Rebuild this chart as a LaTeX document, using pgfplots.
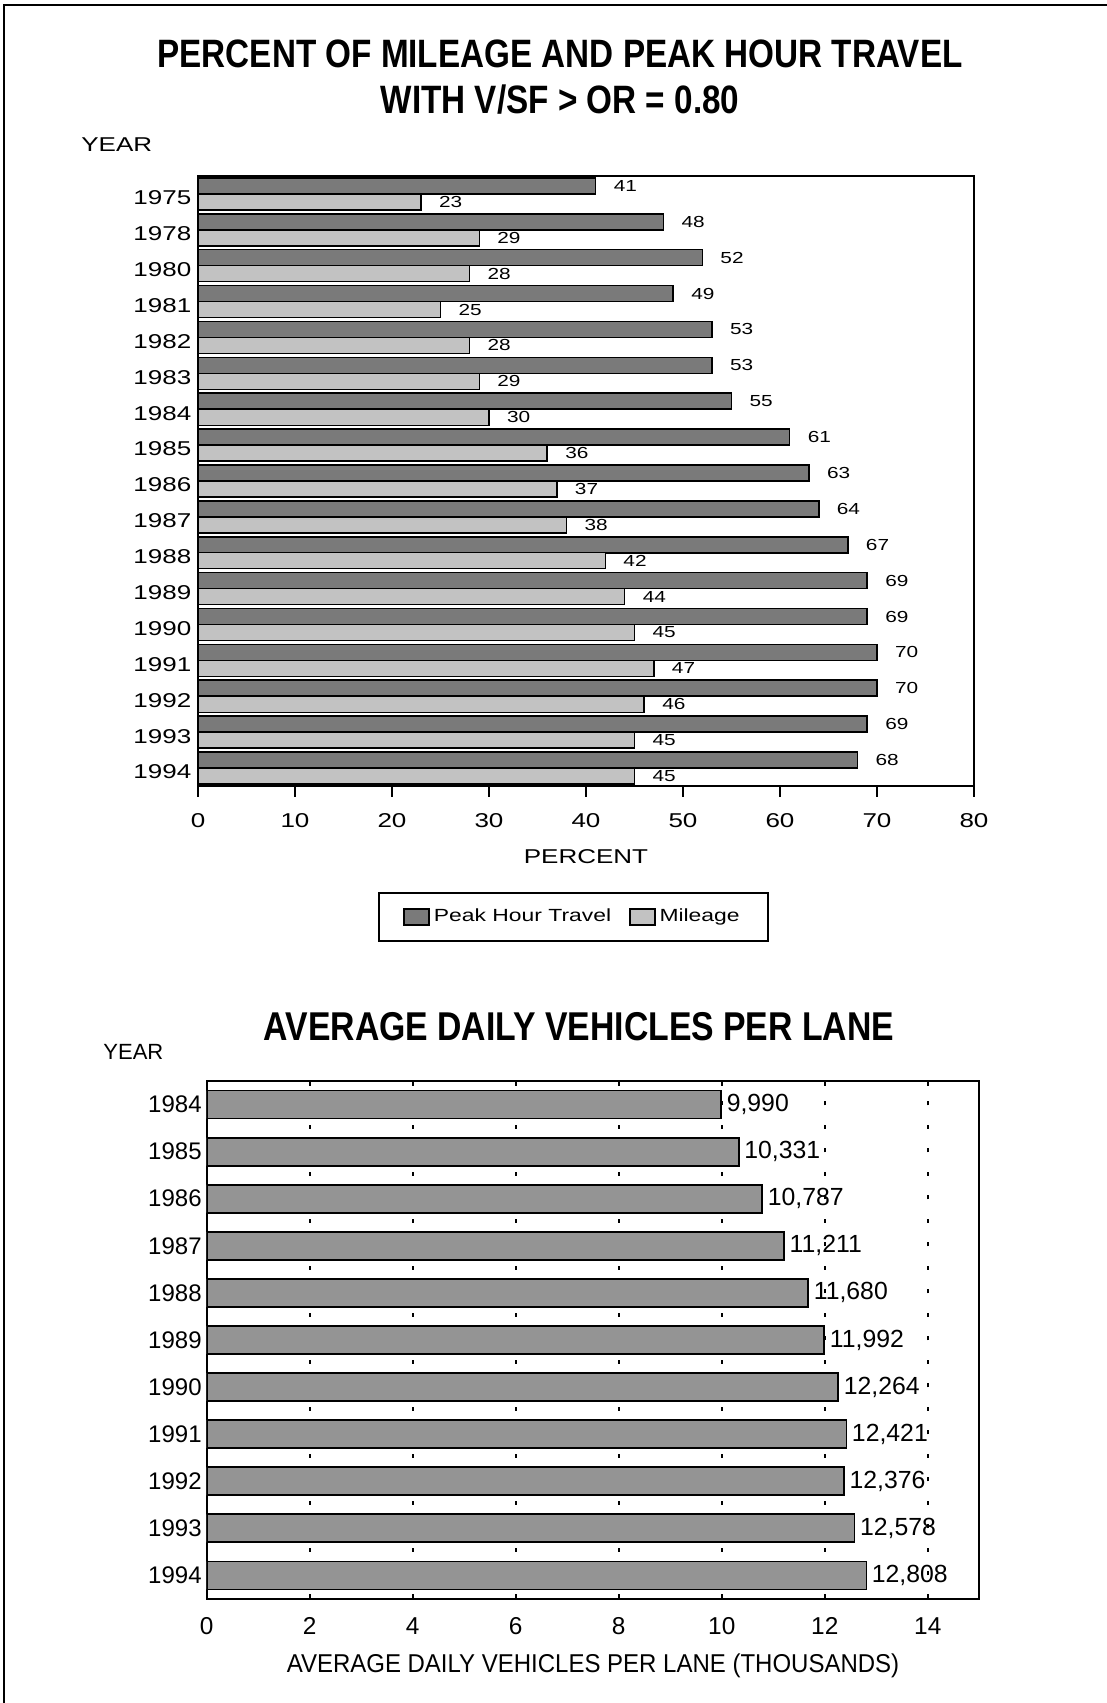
\documentclass[border=0pt]{standalone}
\usepackage{fontspec}
\setmainfont{Liberation Sans}
\newfontfamily\widefont[FakeStretch=1.3]{Liberation Sans}
\newfontfamily\titlefont[FakeStretch=0.84]{Liberation Sans}
\newfontfamily\narrowfont[FakeStretch=0.93]{Liberation Sans}
\usepackage{pgfplots}
\pgfplotsset{compat=1.18}
\usepackage{pgfplotstable}

\definecolor{peakc}{gray}{0.48}
\definecolor{milc}{gray}{0.76}
\definecolor{avgc}{gray}{0.58}

\pgfplotstableread{
y year peak mileage
0 1994 68 45
1 1993 69 45
2 1992 70 46
3 1991 70 47
4 1990 69 45
5 1989 69 44
6 1988 67 42
7 1987 64 38
8 1986 63 37
9 1985 61 36
10 1984 55 30
11 1983 53 29
12 1982 53 28
13 1981 49 25
14 1980 52 28
15 1978 48 29
16 1975 41 23
}\toptable

\pgfplotstableread{
y year v lab
0 1994 12808 12,808
1 1993 12578 12,578
2 1992 12376 12,376
3 1991 12421 12,421
4 1990 12264 12,264
5 1989 11992 11,992
6 1988 11680 11,680
7 1987 11211 11,211
8 1986 10787 10,787
9 1985 10331 10,331
10 1984 9990 9,990
}\bottable

\begin{document}
\begin{tikzpicture}
\path[use as bounding box] (0pt,0pt) rectangle (553.5pt,851.5pt);
% page frame
\draw[line width=1.4pt] (2pt,0pt) -- (2pt,849pt) -- (553.5pt,849pt);

% titles
\node[font=\titlefont\bfseries\fontsize{19.8}{22}\selectfont] at (280pt,824.5pt) {PERCENT OF MILEAGE AND PEAK HOUR TRAVEL};
\node[font=\titlefont\bfseries\fontsize{19.8}{22}\selectfont] at (280pt,801.5pt) {WITH V/SF > OR = 0.80};
\node[font=\widefont\fontsize{10}{12}\selectfont, anchor=west, inner sep=0pt] at (40.5pt,779.25pt) {YEAR};

\begin{axis}[
  at={(99pt,458.5pt)}, anchor=south west,
  scale only axis, width=388pt, height=305pt,
  xbar, bar width=8pt,
  xmin=0, xmax=80, ymin=-0.5, ymax=16.5,
  xtick={0,10,...,80},
  xtick pos=left, tick align=outside,
  major tick length=5.5pt,
  ytick={0,...,16},
  yticklabels from table={\toptable}{year},
  y tick style={draw=none},
  x tick style={line width=0.8pt, black},
  axis line style={line width=0.9pt},
  /pgf/number format/assume math mode=true,
  x tick label style={font=\widefont\fontsize{10}{12}\selectfont, yshift=-4.7pt},
  y tick label style={font=\widefont\fontsize{10}{12}\selectfont, xshift=5.7pt, yshift=-2pt},
  xlabel={PERCENT},
  xlabel style={font=\widefont\fontsize{10}{12}\selectfont, at={(axis description cs:0.5,-0.115)}, anchor=center},
  legend columns=2,
  legend image code/.code={\draw[#1] (0pt,-4pt) rectangle (12.5pt,4pt);},
  legend style={at={(0.4839,-0.2148)}, anchor=center, draw=black, line width=1pt,
    inner xsep=12pt, inner ysep=6pt,
    font=\widefont\fontsize{8.8}{10}\selectfont,
    /tikz/every even column/.append style={column sep=7pt}},
]
\addplot[fill=peakc, draw=black, line width=0.8pt, bar shift=4pt,
  point meta=x, nodes near coords,
  nodes near coords style={anchor=west, xshift=5.5pt, font=\widefont\fontsize{8}{9}\selectfont, line width=0.4pt}]
  table[x=peak, y=y] {\toptable};
\addlegendentry{Peak Hour Travel}
\addplot[fill=milc, draw=black, line width=0.7pt, bar shift=-4pt,
  point meta=x, nodes near coords,
  nodes near coords style={anchor=west, xshift=5.5pt, font=\widefont\fontsize{8}{9}\selectfont, line width=0.4pt}]
  table[x=mileage, y=y] {\toptable};
\addlegendentry{Mileage}
\end{axis}

% bottom chart
\node[font=\titlefont\bfseries\fontsize{20.1}{22}\selectfont] at (289.5pt,338pt) {AVERAGE DAILY VEHICLES PER LANE};
\node[font=\fontsize{11}{13}\selectfont, anchor=west, inner sep=0pt] at (51.5pt,325.5pt) {YEAR};

\begin{axis}[
  at={(103.35pt,52pt)}, anchor=south west,
  scale only axis, width=386.3pt, height=259pt,
  xbar, bar width=14pt,
  xmin=0, xmax=15, ymin=-0.5, ymax=10.5,
  xtick={0,2,...,14},
  xtick pos=both, tick align=inside, major tick length=2.5pt,
  xmajorgrids,
  major grid style={black, line width=1pt, dash pattern=on 2pt off 9.75pt},
  ytick={0,...,10},
  yticklabels from table={\bottable}{year},
  y tick style={draw=none},
  x tick style={line width=0.8pt, black},
  axis line style={line width=0.9pt},
  /pgf/number format/assume math mode=true,
  x tick label style={font=\fontsize{12.2}{14}\selectfont, yshift=-5.8pt},
  y tick label style={font=\fontsize{12}{14}\selectfont, xshift=1pt},
  xlabel={AVERAGE DAILY VEHICLES PER LANE (THOUSANDS)},
  xlabel style={font=\narrowfont\fontsize{12.9}{15}\selectfont, at={(axis description cs:0.5,-0.1285)}, anchor=center},
]
\addplot[fill=avgc, draw=black, line width=0.9pt, bar shift=0pt,
  point meta=explicit symbolic, nodes near coords,
  nodes near coords style={anchor=west, inner sep=2.3pt, font=\fontsize{12.4}{14}\selectfont}]
  table[x expr=\thisrow{v}/1000, y=y, meta=lab] {\bottable};
\end{axis}
\end{tikzpicture}
\end{document}
